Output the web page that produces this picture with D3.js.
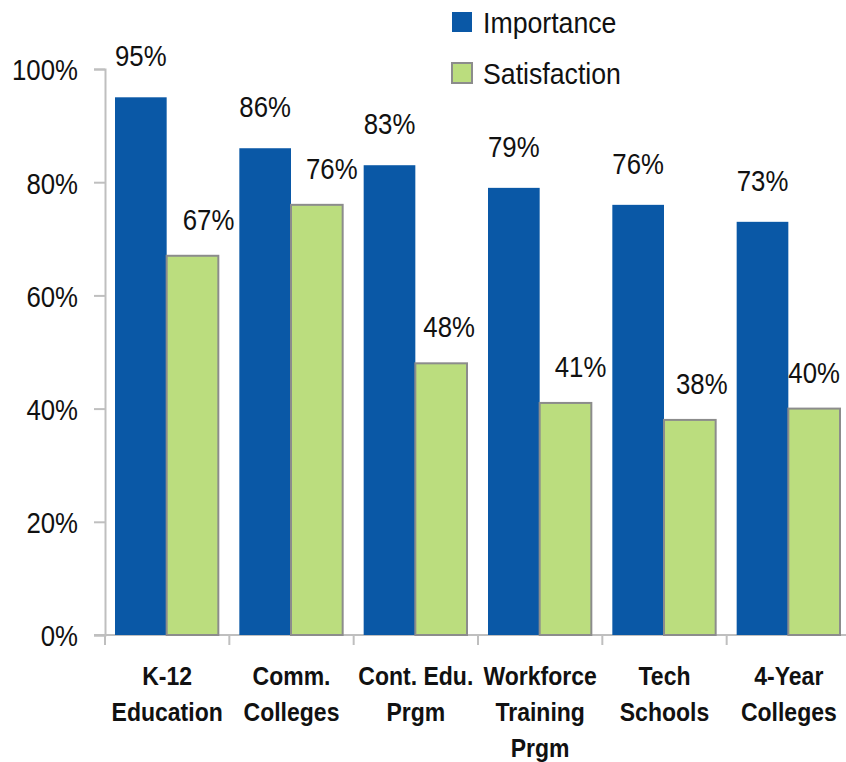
<!DOCTYPE html>
<html>
<head>
<meta charset="utf-8">
<script src="https://cdn.jsdelivr.net/npm/d3@7"></script>
<style>
  body { margin: 0; background: #fff; }
  svg text { font-family: "Liberation Sans Narrow", "Arial Narrow", "Liberation Sans", sans-serif; fill: #111; }
</style>
</head>
<body>
<div id="chart"></div>
<script>
// chart data
var categories = [
  ['K-12', 'Education'],
  ['Comm.', 'Colleges'],
  ['Cont. Edu.', 'Prgm'],
  ['Workforce', 'Training', 'Prgm'],
  ['Tech', 'Schools'],
  ['4-Year', 'Colleges']
];
var importance = [95, 86, 83, 79, 76, 73];
var satisfaction = [67, 76, 48, 41, 38, 40];
var yTicks = [0, 20, 40, 60, 80, 100];

var seriesNames = ['Importance', 'Satisfaction'];
var colors = ['#0a58a6', '#bbdd7e'];

// satisfaction labels are nudged right a bit, like the original
var satLabelNudge = [16, 15, 8, 15, 12, 0];

var width = 846, height = 762;
var margin = {top: 69, right: -5, bottom: 127, left: 105};
var squeeze = 0.86; // no narrow font installed, so squeeze text horizontally

var svg = d3.select('#chart').append('svg')
  .attr('width', width)
  .attr('height', height);

// place text at (px, py), squeezed horizontally
function narrowText(parent, px, py, s) {
  return parent.append('text')
    .attr('transform', 'translate(' + px + ',' + py + ') scale(' + (s || squeeze) + ',1)');
}

// scales
var x = d3.scaleBand()
  .domain(d3.range(categories.length))
  .range([margin.left, width - margin.right]);
var inner = d3.scaleBand()
  .domain([0, 1])
  .range([10, x.bandwidth() - 11]);
var y = d3.scaleLinear()
  .domain([0, 100])
  .range([height - margin.bottom, margin.top]);

// y axis
var yAxis = svg.append('g')
  .attr('transform', 'translate(' + margin.left + ',0)')
  .call(d3.axisLeft(y).tickValues(yTicks).tickSize(11).tickPadding(0)
    .tickFormat(function(d) { return d + '%'; }));
yAxis.select('.domain').attr('stroke', '#bfbfbf').attr('stroke-width', 2);
yAxis.selectAll('.tick line').attr('stroke', '#bfbfbf').attr('stroke-width', 2);
yAxis.selectAll('.tick text')
  .attr('x', 0)
  .attr('dy', '0.36em')
  .attr('transform', 'translate(-27,0) scale(' + squeeze + ',1)')
  .attr('font-size', 30)
  .attr('fill', '#111')
  .style('font-family', '"Liberation Sans Narrow", "Arial Narrow", "Liberation Sans", sans-serif');

// x axis line and boundary ticks
var x0 = y(0);
svg.append('line')
  .attr('x1', margin.left - 11).attr('x2', width)
  .attr('y1', x0).attr('y2', x0)
  .attr('stroke', '#bfbfbf').attr('stroke-width', 2);
svg.selectAll('.xtick')
  .data(d3.range(categories.length + 1))
  .enter().append('line')
    .attr('x1', function(i) { return margin.left + i * x.step(); })
    .attr('x2', function(i) { return margin.left + i * x.step(); })
    .attr('y1', x0).attr('y2', x0 + 10)
    .attr('stroke', '#bfbfbf').attr('stroke-width', 2);

// bars
categories.forEach(function(cat, i) {
  var g = svg.append('g').attr('transform', 'translate(' + x(i) + ',0)');

  g.append('rect')
    .attr('x', inner(0))
    .attr('width', inner.bandwidth())
    .attr('y', y(importance[i]))
    .attr('height', x0 - y(importance[i]))
    .attr('fill', colors[0]);

  g.append('rect')
    .attr('x', inner(1))
    .attr('width', inner.bandwidth())
    .attr('y', y(satisfaction[i]))
    .attr('height', x0 - y(satisfaction[i]))
    .attr('fill', colors[1])
    .attr('stroke', '#8c8c8c')
    .attr('stroke-width', 2);

  // value labels
  narrowText(g, inner(0) + inner.bandwidth() / 2, y(importance[i]) - 31)
    .attr('text-anchor', 'middle')
    .attr('font-size', 30)
    .text(importance[i] + '%');

  narrowText(g, inner(1) + inner.bandwidth() / 2 + satLabelNudge[i], y(satisfaction[i]) - 26)
    .attr('text-anchor', 'middle')
    .attr('font-size', 30)
    .text(satisfaction[i] + '%');

  // category labels
  cat.forEach(function(line, j) {
    narrowText(g, x.bandwidth() / 2, 685 + j * 36, 0.92)
      .attr('text-anchor', 'middle')
      .attr('font-size', 25)
      .attr('font-weight', 'bold')
      .text(line);
  });
});

// legend
seriesNames.forEach(function(name, i) {
  var lg = svg.append('g').attr('transform', 'translate(452,' + (12 + i * 51) + ')');
  lg.append('rect')
    .attr('width', 20).attr('height', 20)
    .attr('fill', colors[i])
    .attr('stroke', i === 1 ? '#8c8c8c' : 'none')
    .attr('stroke-width', 2);
  narrowText(lg, 31, 21, 0.89)
    .attr('font-size', 30)
    .text(name);
});
</script>
</body>
</html>
